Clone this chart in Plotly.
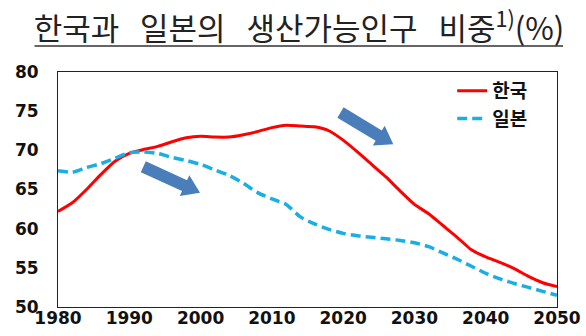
import math
import plotly.graph_objects as go

# Working-age population share (%), Korea vs Japan
years = [1980, 1982, 1984, 1986, 1988, 1990, 1992, 1994, 1996, 1998,
         2000, 2002, 2004, 2006, 2008, 2010, 2012, 2014, 2016, 2018,
         2020, 2022, 2024, 2026, 2028, 2030, 2032, 2034, 2036, 2038,
         2040, 2042, 2044, 2046, 2048, 2050]
korea = [62.2, 63.3, 65.0, 66.9, 68.6, 69.6, 70.1, 70.5, 71.1, 71.6,
         71.8, 71.7, 71.7, 72.0, 72.4, 72.9, 73.2, 73.1, 73.0, 72.5,
         71.3, 69.8, 68.2, 66.6, 64.8, 63.1, 61.9, 60.4, 58.9, 57.3,
         56.4, 55.7, 54.9, 53.9, 53.1, 52.6]
japan = [67.4, 67.2, 67.8, 68.3, 69.0, 69.7, 69.8, 69.6, 69.1, 68.7,
         68.2, 67.5, 66.8, 65.8, 64.6, 63.8, 63.1, 61.5, 60.6, 59.9,
         59.4, 59.1, 58.9, 58.7, 58.5, 58.2, 57.7, 56.9, 56.1, 55.2,
         54.3, 53.6, 53.0, 52.5, 52.0, 51.5]
x_ticks = [1980, 1990, 2000, 2010, 2020, 2030, 2040, 2050]
y_ticks = [50, 55, 60, 65, 70, 75, 80]

W, H = 586, 336
M_L, M_R, M_T, M_B = 58, 29, 72, 29
X_RANGE = [1980, 2050]
Y_RANGE = [50, 80]
PLOT_W = W - M_L - M_R
PLOT_H = H - M_T - M_B

def to_px(xv, yv):
    px = M_L + (xv - X_RANGE[0]) / (X_RANGE[1] - X_RANGE[0]) * PLOT_W
    py = (H - M_B) - (yv - Y_RANGE[0]) / (Y_RANGE[1] - Y_RANGE[0]) * PLOT_H
    return px, py

def to_data(px, py):
    xv = X_RANGE[0] + (px - M_L) / PLOT_W * (X_RANGE[1] - X_RANGE[0])
    yv = Y_RANGE[0] + ((H - M_B) - py) / PLOT_H * (Y_RANGE[1] - Y_RANGE[0])
    return xv, yv

def paper_x(px):
    return (px - M_L) / PLOT_W

def paper_y(py):
    return ((H - M_B) - py) / PLOT_H

def block_arrow(tail, tip, shaft=6.0, head=11.5, head_len=17.0):
    """Filled block arrow between two data points, shaped in pixel space."""
    tx, ty = to_px(*tail)
    hx, hy = to_px(*tip)
    L = math.hypot(hx - tx, hy - ty)
    ux, uy = (hx - tx) / L, (hy - ty) / L
    nx, ny = -uy, ux
    bx, by = hx - ux * head_len, hy - uy * head_len
    pts = [
        (tx + nx * shaft, ty + ny * shaft),
        (bx + nx * shaft, by + ny * shaft),
        (bx + nx * head, by + ny * head),
        (hx, hy),
        (bx - nx * head, by - ny * head),
        (bx - nx * shaft, by - ny * shaft),
        (tx - nx * shaft, ty - ny * shaft),
    ]
    d = [to_data(px, py) for px, py in pts]
    path = "M " + " L ".join(f"{a:.4f},{b:.4f}" for a, b in d) + " Z"
    return dict(type="path", path=path, xref="x", yref="y",
                fillcolor="#4A7EBB", line=dict(width=0), layer="above")

fig = go.Figure()
fig.add_trace(go.Scatter(
    x=years, y=korea, name="한국", mode="lines",
    line=dict(color="#FF0000", width=3, shape="spline", smoothing=0.6)))
fig.add_trace(go.Scatter(
    x=years, y=japan, name="일본", mode="lines",
    line=dict(color="#1AAEE6", width=3.5, dash="10px,5px", shape="spline", smoothing=0.6)))

arrow_a = block_arrow(to_data(143.3, 166.7), to_data(200, 192.7))
arrow_b = block_arrow(to_data(340.5, 112.5), to_data(393.3, 144.3))

# underline beneath the heading, drawn as a headless annotation arrow
RULE_X0, RULE_X1, RULE_Y = 33, 563, 46
title_rule = dict(
    text="", showarrow=True, arrowhead=0, arrowwidth=1.5, arrowcolor="#333333",
    xref="paper", yref="paper", x=paper_x(RULE_X1), y=paper_y(RULE_Y),
    axref="pixel", ayref="pixel", ax=-(RULE_X1 - RULE_X0), ay=0,
    standoff=0, startstandoff=0)

tick_font = dict(family="DejaVu Sans", size=17, color="#111111", weight="bold")
gap = "\u00a0\u00a0\u00a0"

fig.update_layout(
    width=W, height=H,
    margin=dict(l=M_L, r=M_R, t=M_T, b=M_B, autoexpand=False),
    paper_bgcolor="white", plot_bgcolor="white",
    title=dict(
        text=f"한국과{gap}일본의{gap}생산가능인구{gap}비중<sup>1)</sup>(%)",
        x=299 / W, xref="container", xanchor="center",
        y=1 - 29 / H, yref="container", yanchor="middle",
        font=dict(family="Noto Sans CJK KR", size=31, color="#222222")),
    xaxis=dict(range=X_RANGE, tickvals=x_ticks, showgrid=False, zeroline=False,
               showline=True, linecolor="#222222", linewidth=1, mirror=True,
               ticks="", tickfont=tick_font, ticklabelstandoff=-4, automargin=False),
    yaxis=dict(range=Y_RANGE, tickvals=y_ticks, showgrid=False, zeroline=False,
               showline=True, linecolor="#222222", linewidth=1, mirror=True,
               ticks="", tickfont=tick_font, ticklabelstandoff=15, automargin=False),
    legend=dict(x=0.79, y=1.0, xanchor="left", yanchor="top",
                bgcolor="rgba(0,0,0,0)", borderwidth=0,
                font=dict(family="Noto Sans CJK KR", size=19, color="#111111", weight="bold"),
                itemwidth=30, tracegroupgap=0),
    shapes=[arrow_a, arrow_b],
    annotations=[title_rule],
    showlegend=True,
)

fig.write_html("out.html")
